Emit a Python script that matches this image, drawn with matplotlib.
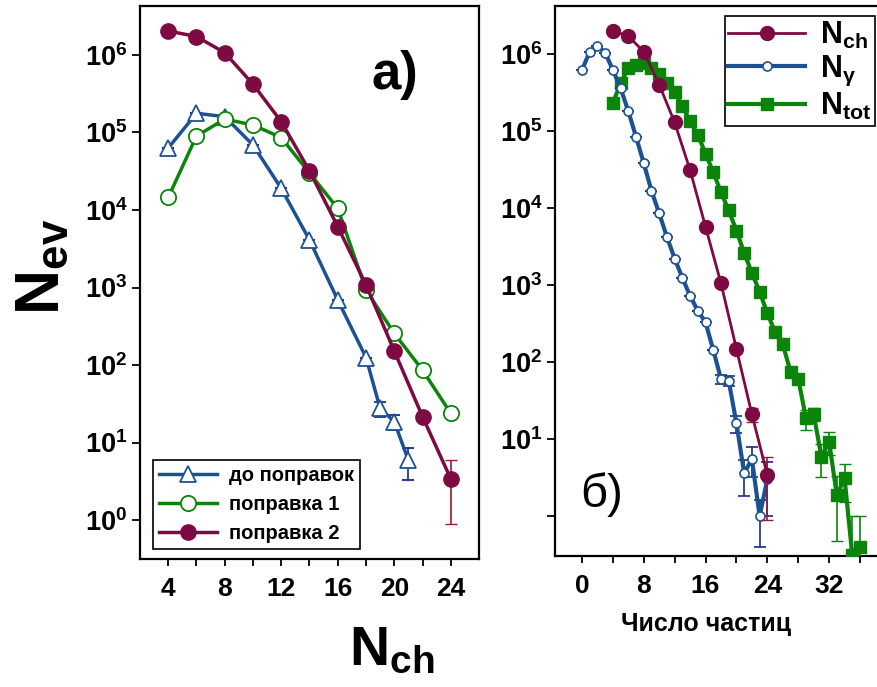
import math
import matplotlib
matplotlib.use("Agg")
import matplotlib.pyplot as plt
from matplotlib.ticker import FixedLocator, FuncFormatter

plt.rcParams["font.family"] = ["Liberation Sans", "DejaVu Sans"]
plt.rcParams["mathtext.fontset"] = "custom"
plt.rcParams["mathtext.bf"] = "Liberation Sans:bold"
plt.rcParams["mathtext.rm"] = "Liberation Sans"

# --- данные, панель а) ---
x_left = [4, 6, 8, 10, 12, 14, 16, 18, 20, 22, 24]
corr2 = [2.04e6, 1.73e6, 1.07e6, 4.2e5, 1.38e5, 3.2e4, 6.1e3, 1.08e3, 152, 21.6, 3.4]
corr2_err = [0, 0, 0, 0, 0, 0, 0, 0, 0, 0, 2.5]
corr1 = [1.45e4, 9.0e4, 1.49e5, 1.25e5, 8.6e4, 3.0e4, 1.05e4, 930, 256, 86, 23.8]
x_raw = [4, 6, 8, 10, 12, 14, 16, 18, 19, 20, 21]
raw = [6.3e4, 1.77e5, 1.6e5, 6.9e4, 1.9e4, 4.1e3, 690, 125, 27.5, 18.6, 5.9]
raw_err = [0, 0, 0, 0, 0, 0, 0, 0, 6, 4, 2.6]
left_labels = ["до поправок", "поправка 1", "поправка 2"]

# --- данные, панель б) ---
x_nch = [4, 6, 8, 10, 12, 14, 16, 18, 20, 22, 24]
nch = [2.0e6, 1.7e6, 1.07e6, 4.0e5, 1.29e5, 3.1e4, 5.7e3, 1.05e3, 148, 21, 3.4]
nch_err = [0, 0, 0, 0, 0, 0, 0, 0, 0, 4.5, 2.5]
x_ng = list(range(0, 25))
ng = [6.2e5, 1.07e6, 1.27e6, 1.04e6, 6.2e5, 3.6e5, 1.8e5, 8.4e4, 3.8e4, 1.67e4,
      8.5e3, 4.2e3, 2.2e3, 1.24e3, 720, 463, 327, 143, 60, 57, 16, 3.6, 5.5, 1.0, 3.0]
ng_err = [0] * 18 + [8, 8, 4, 1.8, 2.3, 0.6, 2.0]
x_tot = list(range(4, 37))
ntot = [2.3e5, 4.2e5, 6.5e5, 7.2e5, 7.6e5, 6.5e5, 5.5e5, 4.2e5, 3.2e5, 2.1e5,
        1.33e5, 8.9e4, 5.1e4, 2.9e4, 1.6e4, 9.3e3, 5.1e3, 2.6e3, 1.44e3, 820,
        430, 245, 170, 75, 61, 18.6, 21, 5.9, 9.2, 1.87, 3.1, 0.31, 0.40]
ntot_err = [0] * 23 + [6, 6, 5.5, 4, 2.7, 3, 1.4, 1.6, 0.7, 0.6]
right_labels = [r"$\mathbf{N_{ch}}$", r"$\mathbf{N_{γ}}$", r"$\mathbf{N_{tot}}$"]

purple = "#7d0a42"
green = "#0a850a"
blue = "#1c5294"


def log_label(v, p):
    return r"$\mathbf{10^{%d}}$" % round(math.log10(v))


fig = plt.figure(figsize=(8.77, 6.87), dpi=100)
ax1 = fig.add_axes([0.1596, 0.1863, 0.3866, 0.8050])
ax2 = fig.add_axes([0.6328, 0.1907, 0.3672, 0.8006])

# панель а)
e_raw = ax1.errorbar(x_raw, raw, yerr=raw_err, color=blue, lw=2.5, marker="^", ms=11,
                     mfc="white", mec=blue, mew=1.3, ecolor="#1a2a8a", elinewidth=1.2,
                     capsize=4, zorder=3)
l_c1, = ax1.plot(x_left, corr1, color=green, lw=2.5, marker="o", ms=11, mfc="white",
                 mec=green, mew=1.3, zorder=4)
e_c2 = ax1.errorbar(x_left, corr2, yerr=corr2_err, color=purple, lw=2.5, marker="o", ms=11,
                    ecolor="#a01830", elinewidth=1.2, capsize=4, zorder=5)
ax1.set_yscale("log")
ax1.set_xlim(2, 26)
ax1.set_ylim(0.314, 4.29e6)
ax1.xaxis.set_major_locator(FixedLocator([4, 8, 12, 16, 20, 24]))
ax1.xaxis.set_minor_locator(FixedLocator([6, 10, 14, 18, 22]))
ax1.yaxis.set_major_locator(FixedLocator([1, 10, 1e2, 1e3, 1e4, 1e5, 1e6]))
ax1.yaxis.set_minor_locator(FixedLocator([]))
ax1.yaxis.set_major_formatter(FuncFormatter(log_label))
ax1.text(0.752, 0.875, "а)", transform=ax1.transAxes, fontsize=38,
         fontweight="bold", ha="center", va="center")
leg1 = ax1.legend([e_raw[0], l_c1, e_c2[0]], left_labels, loc="lower left",
                  bbox_to_anchor=(0.038, 0.018), prop={"weight": "bold", "size": 14.5},
                  handlelength=2.9, handletextpad=0.6, labelspacing=0.5, borderpad=0.3,
                  fancybox=False, edgecolor="black", framealpha=1, borderaxespad=0)
leg1.get_frame().set_linewidth(1.2)

# панель б)
e_ng = ax2.errorbar(x_ng, ng, yerr=ng_err, color=blue, lw=3, marker="o", ms=6.5,
                    mfc="white", mec=blue, mew=1.2, ecolor="#1a2a8a", elinewidth=1.2,
                    capsize=4, zorder=4)
e_tot = ax2.errorbar(x_tot, ntot, yerr=ntot_err, color=green, lw=3, marker="s", ms=8,
                     ecolor=green, elinewidth=1.2, capsize=4, zorder=3)
e_nch = ax2.errorbar(x_nch, nch, yerr=nch_err, color=purple, lw=2, marker="o", ms=10,
                     ecolor="#a01830", elinewidth=1.2, capsize=4, zorder=5)
ax2.set_yscale("log")
ax2.set_xlim(-3.5, 38.2)
ax2.set_ylim(0.303, 4.2e6)
ax2.xaxis.set_major_locator(FixedLocator([0, 8, 16, 24, 32]))
ax2.xaxis.set_minor_locator(FixedLocator([4, 12, 20, 28, 36]))
ax2.yaxis.set_major_locator(FixedLocator([1, 10, 1e2, 1e3, 1e4, 1e5, 1e6]))
ax2.yaxis.set_minor_locator(FixedLocator([]))
ax2.yaxis.set_major_formatter(FuncFormatter(lambda v, p: "" if v < 5 else log_label(v, p)))
ax2.spines["right"].set_visible(False)
ax2.text(0.146, 0.111, "б)", transform=ax2.transAxes, fontsize=34,
         ha="center", va="center")
leg2 = ax2.legend([e_nch[0], e_ng[0], e_tot[0]], right_labels, loc="upper right",
                  bbox_to_anchor=(0.994, 0.982), fontsize=22, handlelength=2.5,
                  handletextpad=0.5, labelspacing=0.1, borderpad=0.12, fancybox=False,
                  edgecolor="black", framealpha=1, borderaxespad=0)
leg2.get_frame().set_linewidth(1.2)

for ax in (ax1, ax2):
    for s in ax.spines.values():
        s.set_linewidth(1.6)
    ax.tick_params(axis="both", which="both", direction="out", width=1.3)
    ax.tick_params(axis="y", which="major", length=6, labelsize=19.5, pad=3)
    ax.tick_params(axis="x", which="both", length=5, labelsize=19, pad=8)
    for t in ax.get_xticklabels():
        t.set_fontweight("bold")

fig.text(43 / 877, 1 - 267 / 687, r"$\mathbf{N_{ev}}$", fontsize=45, rotation=90,
         ha="center", va="center")
fig.text(392 / 877, 1 - 651 / 687, r"$\mathbf{N_{ch}}$", fontsize=40,
         ha="center", va="center")
fig.text(706 / 877, 1 - 624 / 687, "Число частиц", fontsize=18, fontweight="bold",
         ha="center", va="center")

fig.savefig("out.png", dpi=100)
